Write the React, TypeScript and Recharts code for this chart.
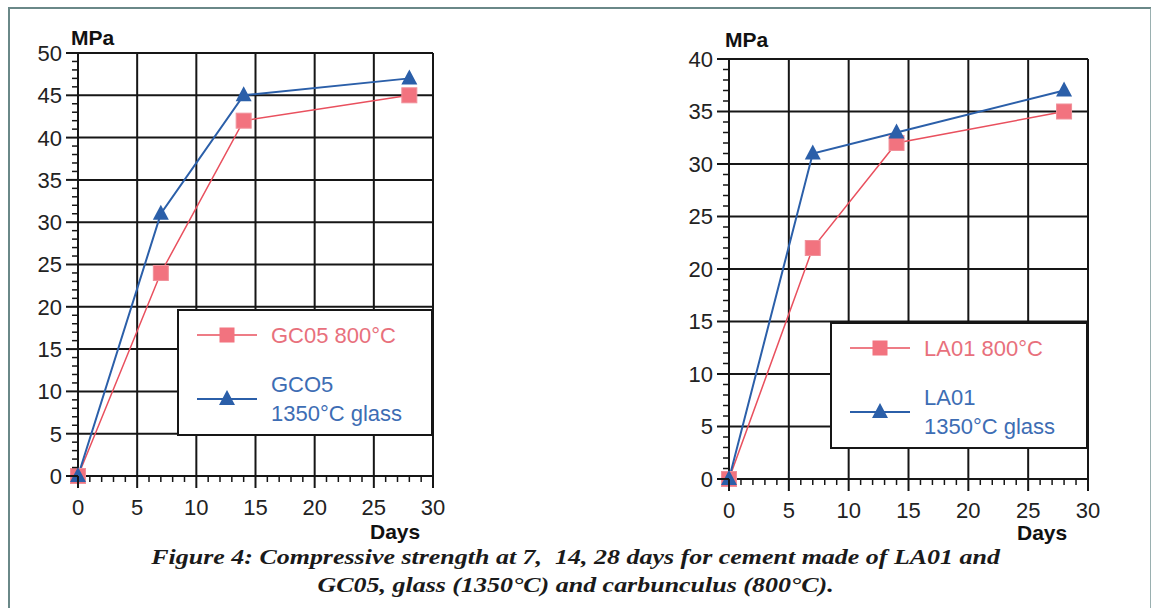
import React from 'react';
import { LineChart, Line, XAxis, YAxis, ReferenceLine, Legend } from 'recharts';

// curing age (days) and compressive strength (MPa)
const days = [0, 7, 14, 28];
const gc05Carbunculus = [0, 24, 42, 45];
const gc05Glass = [0, 31, 45, 47];
const la01Carbunculus = [0, 22, 32, 35];
const la01Glass = [0, 31, 33, 37];

const xMajor = [0, 5, 10, 15, 20, 25, 30];
const xMinor = Array.from({ length: 31 }, (_, i) => i);
const yMajorLeft = [0, 5, 10, 15, 20, 25, 30, 35, 40, 45, 50];
const yMinorLeft = Array.from({ length: 51 }, (_, i) => i);
const yMajorRight = [0, 5, 10, 15, 20, 25, 30, 35, 40];
const yMinorRight = Array.from({ length: 41 }, (_, i) => i);

const RED = '#e9505e';
const PINK = '#f2737f';
const BLUE = '#2b5fa9';
const INK = '#161616';
const SANS = '"Liberation Sans", Arial, Helvetica, sans-serif';

const leftData = days.map((d, i) => ({ day: d, carb: gc05Carbunculus[i], glass: gc05Glass[i] }));
const rightData = days.map((d, i) => ({ day: d, carb: la01Carbunculus[i], glass: la01Glass[i] }));

const makeYTick = (majors: number[]) => (props: any) => {
  const { x, y, payload } = props;
  const isMajor = majors.includes(payload.value);
  return (
    <g>
      <line x1={x - (isMajor ? 12 : 6)} x2={x} y1={y} y2={y} stroke={INK} strokeWidth={isMajor ? 2 : 1.5} />
      {isMajor && (
        <text x={x - 16} y={y} dy="0.36em" textAnchor="end" fontSize={22} fontFamily={SANS} fill="#222">
          {payload.value}
        </text>
      )}
    </g>
  );
};

const XTick = (props: any) => {
  const { x, y, payload } = props;
  const isMajor = xMajor.includes(payload.value);
  return (
    <g>
      <line x1={x} x2={x} y1={y} y2={y + (isMajor ? 12 : 6)} stroke={INK} strokeWidth={isMajor ? 2 : 1.5} />
      {isMajor && (
        <text x={x} y={y + 31} dy="0.36em" textAnchor="middle" fontSize={22} fontFamily={SANS} fill="#222">
          {payload.value}
        </text>
      )}
    </g>
  );
};

const Square = (props: any) => {
  const { cx, cy, index } = props;
  return <rect key={`sq-${index}`} x={cx - 7.5} y={cy - 7.5} width={15} height={15} fill={PINK} stroke="#f0909a" strokeWidth={1} />;
};

const Triangle = (props: any) => {
  const { cx, cy, index } = props;
  return <path key={`tr-${index}`} d={`M${cx},${cy - 9} L${cx + 8},${cy + 6} L${cx - 8},${cy + 6} Z`} fill={BLUE} />;
};

const legendTextColor: Record<string, string> = { carb: '#e8707c', glass: '#3d6db4' };
const legendOrder = ['carb', 'glass'];

const LegendBox = ({ payload }: any) => {
  const entries = [...(payload || [])].sort(
    (a: any, b: any) => legendOrder.indexOf(a.dataKey) - legendOrder.indexOf(b.dataKey)
  );
  return (
    <div
      style={{
        width: '100%',
        height: '100%',
        boxSizing: 'border-box',
        border: `2px solid ${INK}`,
        background: '#fff',
        position: 'relative',
        fontFamily: SANS,
        fontSize: 22,
      }}
    >
      {entries.map((entry: any, i: number) => {
        const rowY = i === 0 ? 24 : 88;
        const lines = String(entry.value).split('\n');
        return (
          <div key={entry.dataKey}>
            <svg width={64} height={20} style={{ position: 'absolute', left: 16, top: rowY - 10 }}>
              <line x1={2} x2={62} y1={10} y2={10} stroke={entry.color} strokeWidth={entry.dataKey === 'glass' ? 2 : 1.5} />
              {entry.dataKey === 'glass' ? (
                <path d="M32,1 L40,16 L24,16 Z" fill={BLUE} />
              ) : (
                <rect x={24.5} y={2.5} width={15} height={15} fill={PINK} />
              )}
            </svg>
            <div
              style={{
                position: 'absolute',
                left: 92,
                top: rowY - (lines.length * 29) / 2,
                lineHeight: '29px',
                color: legendTextColor[entry.dataKey],
                whiteSpace: 'pre',
              }}
            >
              {entry.value}
            </div>
          </div>
        );
      })}
    </div>
  );
};

type PanelProps = {
  data: any[];
  left: number;
  yMajor: number[];
  yMinor: number[];
  yMax: number;
  margin: { top: number; left: number; right: number; bottom: number };
  legendBox: { left: number; top: number; width: number; height: number };
  carbName: string;
  glassName: string;
};

const Panel = ({ data, left, yMajor, yMinor, yMax, margin, legendBox, carbName, glassName }: PanelProps) => (
  <div style={{ position: 'absolute', left, top: 0 }}>
    <LineChart width={560} height={545} data={data} margin={margin}>
      <XAxis
        dataKey="day"
        type="number"
        domain={[0, 30]}
        ticks={xMinor}
        interval={0}
        height={40}
        tickSize={0}
        tickMargin={0}
        tickLine={false}
        tick={XTick}
        axisLine={{ stroke: INK, strokeWidth: 2 }}
      />
      <YAxis
        type="number"
        domain={[0, yMax]}
        ticks={yMinor}
        interval={0}
        width={60}
        tickSize={0}
        tickMargin={0}
        tickLine={false}
        tick={makeYTick(yMajor)}
        axisLine={{ stroke: INK, strokeWidth: 2 }}
      />
      {xMajor.slice(1).map((v) => (
        <ReferenceLine key={`vx-${v}`} x={v} stroke={INK} strokeWidth={2} />
      ))}
      {yMajor.slice(1).map((v) => (
        <ReferenceLine key={`hy-${v}`} y={v} stroke={INK} strokeWidth={2} />
      ))}
      <Legend
        layout="vertical"
        align="center"
        verticalAlign="middle"
        content={LegendBox}
        wrapperStyle={{ ...legendBox, position: 'absolute' }}
      />
      <Line dataKey="carb" name={carbName} stroke={RED} strokeWidth={1.5} dot={Square} isAnimationActive={false} />
      <Line dataKey="glass" name={glassName} stroke={BLUE} strokeWidth={2} dot={Triangle} isAnimationActive={false} />
    </LineChart>
  </div>
);

const axisTitle: React.CSSProperties = {
  position: 'absolute',
  fontFamily: SANS,
  fontWeight: 700,
  fontSize: 21,
  lineHeight: '24px',
  color: '#111',
  whiteSpace: 'nowrap',
};

export default function App() {
  return (
    <div style={{ position: 'absolute', left: 0, top: 0, width: 1151, height: 608, background: '#fff', overflow: 'hidden' }}>
      <div
        style={{
          position: 'absolute',
          left: 8,
          top: 7,
          width: 1140,
          height: 620,
          borderLeft: '2px solid #6a8888',
          borderTop: '2px solid #6a8888',
          borderRight: '2px solid #9ab0b0',
        }}
      />
      <Panel
        data={leftData}
        left={0}
        yMajor={yMajorLeft}
        yMinor={yMinorLeft}
        yMax={50}
        margin={{ top: 53, left: 18, right: 127, bottom: 29 }}
        legendBox={{ left: 177, top: 309, width: 256, height: 127 }}
        carbName="GC05 800°C"
        glassName={'GCO5\n1350°C glass'}
      />
      <Panel
        data={rightData}
        left={580}
        yMajor={yMajorRight}
        yMinor={yMinorRight}
        yMax={40}
        margin={{ top: 59, left: 89, right: 52, bottom: 26 }}
        legendBox={{ left: 250, top: 322, width: 258, height: 127 }}
        carbName="LA01 800°C"
        glassName={'LA01\n1350°C glass'}
      />
      <div style={{ ...axisTitle, left: 71, top: 26 }}>MPa</div>
      <div style={{ ...axisTitle, left: 725, top: 28 }}>MPa</div>
      <div style={{ ...axisTitle, left: 370, top: 520 }}>Days</div>
      <div style={{ ...axisTitle, left: 1017, top: 521 }}>Days</div>
      <div
        style={{
          position: 'absolute',
          left: 0,
          top: 543,
          width: 1151,
          textAlign: 'center',
          fontFamily: '"Liberation Serif", "Times New Roman", serif',
          fontWeight: 700,
          fontStyle: 'italic',
          fontSize: 22,
          lineHeight: '28px',
          color: '#1a1a1a',
          transform: 'scaleX(1.18)',
          transformOrigin: '575px 0',
        }}
      >
        <div>Figure 4: Compressive strength at 7,&nbsp; 14, 28 days for cement made of LA01 and</div>
        <div>GC05, glass (1350°C) and carbunculus (800°C).</div>
      </div>
    </div>
  );
}
